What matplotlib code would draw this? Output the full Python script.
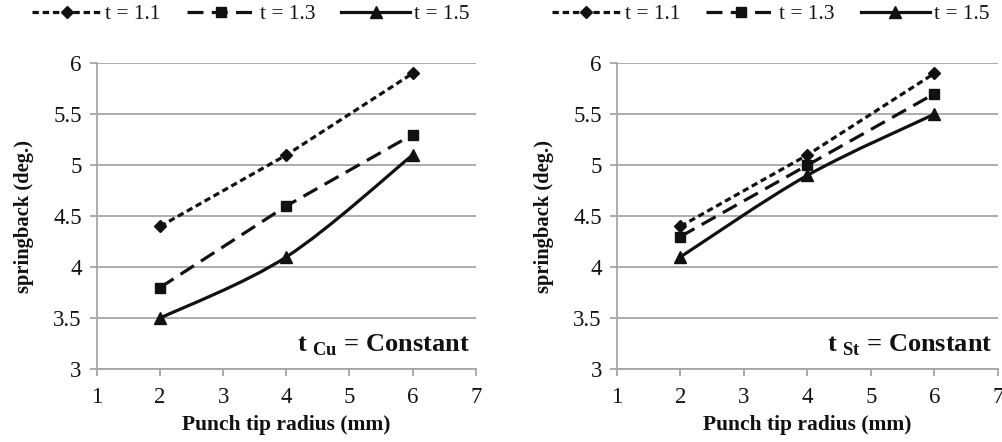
import matplotlib
matplotlib.use("Agg")
import matplotlib.pyplot as plt
from matplotlib.path import Path
from matplotlib.patches import PathPatch
from matplotlib.lines import Line2D

plt.rcParams['font.family'] = ['Liberation Serif', 'DejaVu Serif']
plt.rcParams['mathtext.fontset'] = 'custom'
plt.rcParams['mathtext.rm'] = 'Liberation Serif'
plt.rcParams['mathtext.bf'] = 'Liberation Serif:bold'

# Données
radius = [2, 4, 6]
labels = ['t = 1.1', 't = 1.3', 't = 1.5']

cu_t11 = [4.4, 5.1, 5.9]
cu_t13 = [3.8, 4.6, 5.3]
cu_t15 = [3.5, 4.1, 5.1]

st_t11 = [4.4, 5.1, 5.9]
st_t13 = [4.3, 5.0, 5.7]
st_t15 = [4.1, 4.9, 5.5]

x_ticks = [1, 2, 3, 4, 5, 6, 7]
y_ticks = [3, 3.5, 4, 4.5, 5, 5.5, 6]

GRAY = '#a6a6a6'
INK = '#111111'
LW = 2.3
STYLES = [
    dict(linestyle=(0, (2.0, 1.2)), marker='D', markersize=6.5),
    dict(linestyle=(0, (5.0, 2.6)), marker='s', markersize=7.5),
    dict(linestyle='-', marker='^', markersize=8.5),
]


def smooth_path(x, y):
    """Courbe lissée façon Excel (Bézier à travers les points)."""
    verts = [(x[0], y[0])]
    codes = [Path.MOVETO]
    n = len(x)
    for i in range(n - 1):
        xp, yp = (x[i - 1], y[i - 1]) if i > 0 else (x[i], y[i])
        xn, yn = (x[i + 2], y[i + 2]) if i + 2 < n else (x[i + 1], y[i + 1])
        c1 = (x[i] + (x[i + 1] - xp) / 6, y[i] + (y[i + 1] - yp) / 6)
        c2 = (x[i + 1] - (xn - x[i]) / 6, y[i + 1] - (yn - y[i]) / 6)
        verts += [c1, c2, (x[i + 1], y[i + 1])]
        codes += [Path.CURVE4] * 3
    return Path(verts, codes)


def draw_panel(ax, series, note):
    for k, values in enumerate(series):
        st = STYLES[k]
        if k == 2:
            ax.add_patch(PathPatch(smooth_path(radius, values), fill=False,
                                   edgecolor=INK, linewidth=LW, zorder=3))
            ax.plot(radius, values, linestyle='none', marker=st['marker'],
                    markersize=st['markersize'], color=INK, zorder=4)
        else:
            ax.plot(radius, values, color=INK, linewidth=LW, zorder=3, **st)

    ax.set_xlim(1, 7)
    ax.set_ylim(3, 6)
    ax.set_xticks(x_ticks)
    ax.set_yticks(y_ticks)
    ax.set_yticklabels([f"{v:g}" for v in y_ticks])
    ax.grid(axis='y', color=GRAY, linewidth=1.3)
    ax.set_axisbelow(True)
    for s in ['top', 'right']:
        ax.spines[s].set_visible(False)
    for s in ['left', 'bottom']:
        ax.spines[s].set_color(GRAY)
        ax.spines[s].set_linewidth(1.3)
    ax.tick_params(colors=GRAY, labelcolor=INK, labelsize=16.5, length=5,
                   width=1.3, direction='out')
    ax.tick_params(axis='y', pad=6)
    ax.tick_params(axis='x', pad=8)
    ax.set_xlabel("Punch tip radius (mm)", fontsize=15.5, fontweight='bold',
                  color=INK, labelpad=5)
    ax.set_ylabel("springback (deg.)", fontsize=14.8, fontweight='bold',
                  color=INK, labelpad=14)
    ax.text(0.985, 0.035, note, transform=ax.transAxes, ha='right',
            va='bottom', fontsize=19, fontweight='bold', color=INK)


fig = plt.figure(figsize=(10.02, 4.42), dpi=100)
ax1 = fig.add_axes([0.0968, 0.165, 0.378, 0.692])
ax2 = fig.add_axes([0.6158, 0.165, 0.380, 0.692])

draw_panel(ax1, [cu_t11, cu_t13, cu_t15], r"t $_{\mathbf{Cu}}$ = Constant")
draw_panel(ax2, [st_t11, st_t13, st_t15], r"t $_{\mathbf{St}}$ = Constant")

handles = [Line2D([], [], color=INK, linewidth=LW, **st) for st in STYLES]
for cx in [0.2505, 0.769]:
    fig.legend(handles, labels, loc='center', bbox_to_anchor=(cx, 0.968),
               ncol=3, frameon=False, fontsize=15.5, handlelength=3.2,
               handletextpad=0.2, columnspacing=1.2, labelcolor=INK)

fig.savefig("out.png", dpi=100)
